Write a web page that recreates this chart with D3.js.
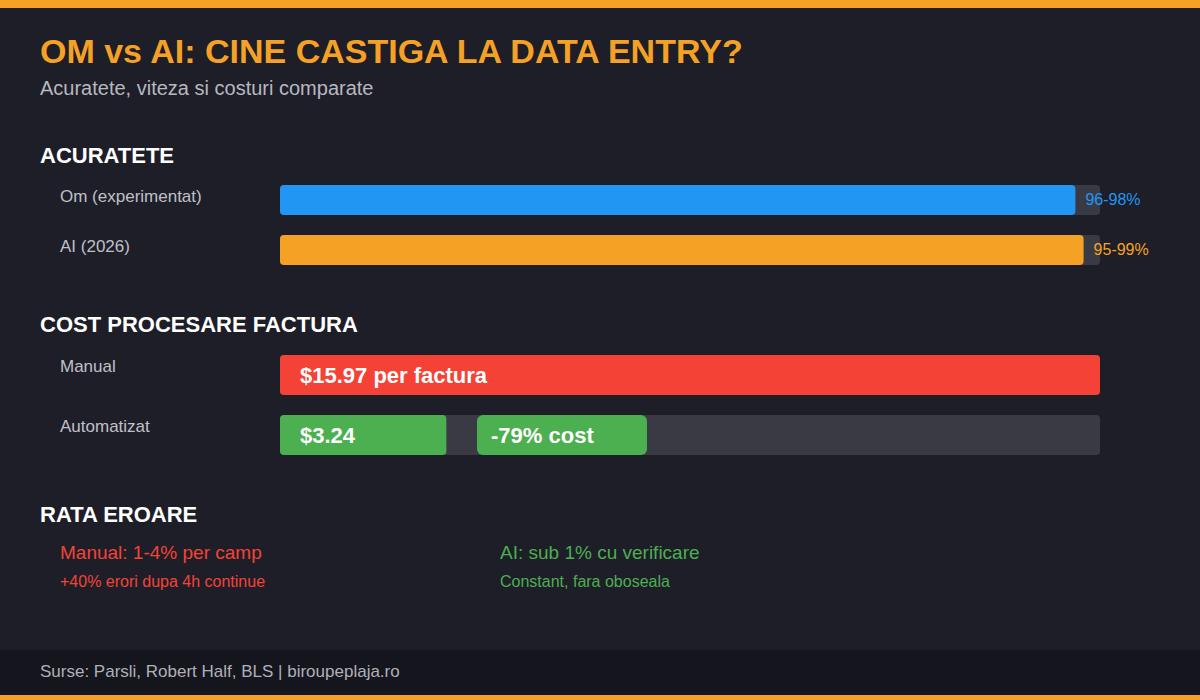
<!DOCTYPE html>
<html><head><meta charset="utf-8">
<script src="https://cdn.jsdelivr.net/npm/d3@7"></script>
<style>body{margin:0;background:#1e1e28}</style>
</head><body>
<script>
// data
const accuracyLabels = ["Om (experimentat)", "AI (2026)"];
const accuracyValues = [97, 98];
const accuracyTexts = ["96-98%", "95-99%"];
const accuracyColors = ["#2196f3", "#f5a125"];
const costLabels = ["Manual", "Automatizat"];
const costValues = [15.97, 3.24];
const costTexts = ["$15.97 per factura", "$3.24"];
const savingText = "-79% cost";

const W = 1200, H = 700, font = "Liberation Sans, Arial, sans-serif";
const svg = d3.select("body").append("svg").attr("width", W).attr("height", H)
   .style("font-family", font);

svg.append("rect").attr("width", W).attr("height", H).attr("fill", "#1e1e28");
svg.append("rect").attr("width", W).attr("height", 8).attr("fill", "#f5a125");
svg.append("rect").attr("y", 650).attr("width", W).attr("height", 46).attr("fill", "#15151d");
svg.append("rect").attr("y", 695).attr("width", W).attr("height", 5).attr("fill", "#f5a125");

function text(x, y, s, size, color, weight) {
   return svg.append("text").attr("x", x).attr("y", y).text(s)
      .attr("font-size", size).attr("fill", color).attr("font-weight", weight || "normal");
}

text(40, 63, "OM vs AI: CINE CASTIGA LA DATA ENTRY?", 34, "#f5a125", "bold");
text(40, 95, "Acuratete, viteza si costuri comparate", 20, "#b8b8c0");

const x = d3.scaleLinear().domain([0, 100]).range([280, 1100]);
const xc = d3.scaleLinear().domain([0, costValues[0]]).range([280, 1100]);

// Acuratete
text(40, 163, "ACURATETE", 22, "#ffffff", "bold");
const yA = d3.scaleOrdinal().domain(accuracyLabels).range([185, 235]);
accuracyLabels.forEach((l, i) => {
   const y = yA(l);
   text(60, y + 17, l, 17, "#c0c0c8");
   svg.append("rect").attr("x", x(0)).attr("y", y).attr("width", x(100) - x(0)).attr("height", 30)
      .attr("rx", 4).attr("fill", "#3a3a45");
   svg.append("rect").attr("x", x(0)).attr("y", y).attr("width", x(accuracyValues[i]) - x(0)).attr("height", 30)
      .attr("rx", 4).attr("fill", accuracyColors[i]);
   text(x(accuracyValues[i]) + 10, y + 20, accuracyTexts[i], 16, accuracyColors[i]);
});

// Cost
text(40, 332, "COST PROCESARE FACTURA", 22, "#ffffff", "bold");
const yC = d3.scaleOrdinal().domain(costLabels).range([355, 415]);
const costColors = ["#f44336", "#4caf50"];
costLabels.forEach((l, i) => {
   const y = yC(l);
   text(60, y + 17, l, 17, "#c0c0c8");
   svg.append("rect").attr("x", xc(0)).attr("y", y).attr("width", xc(costValues[0]) - xc(0)).attr("height", 40)
      .attr("rx", 4).attr("fill", "#3a3a45");
   svg.append("rect").attr("x", xc(0)).attr("y", y).attr("width", xc(costValues[i]) - xc(0)).attr("height", 40)
      .attr("rx", 4).attr("fill", costColors[i]);
   text(xc(0) + 20, y + 28, costTexts[i], 22, "#ffffff", "bold");
});
const yS = yC(costLabels[1]);
svg.append("rect").attr("x", 477).attr("y", yS).attr("width", 170).attr("height", 40)
   .attr("rx", 6).attr("fill", "#4caf50");
text(491, yS + 28, savingText, 22, "#ffffff", "bold");

// Rata eroare
text(40, 522, "RATA EROARE", 22, "#ffffff", "bold");
text(60, 559, "Manual: 1-4% per camp", 19, "#f44336");
text(60, 587, "+40% erori dupa 4h continue", 16, "#f44336");
text(500, 559, "AI: sub 1% cu verificare", 19, "#4caf50");
text(500, 587, "Constant, fara oboseala", 16, "#4caf50");

text(40, 677, "Surse: Parsli, Robert Half, BLS | biroupeplaja.ro", 17, "#b0b0b8");
</script>
</body></html>
